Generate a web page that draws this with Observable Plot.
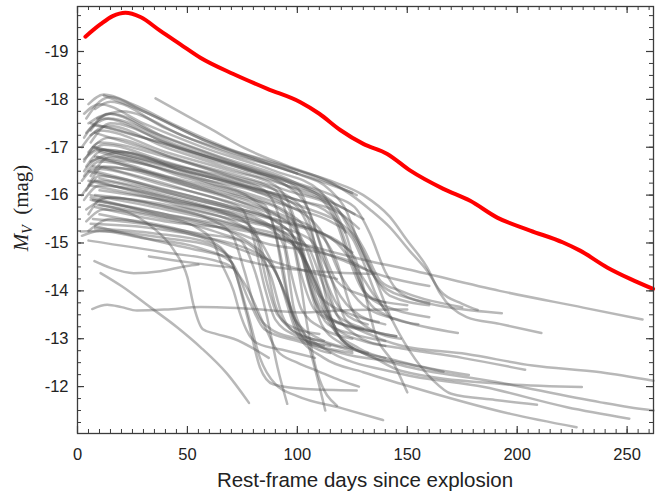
<!DOCTYPE html>
<html><head><meta charset="utf-8">
<script src="https://cdn.jsdelivr.net/npm/d3@7"></script>
<script src="https://cdn.jsdelivr.net/npm/@observablehq/plot@0.6"></script>
<style>body{margin:0;background:#fff}</style>
</head><body><div id="chart"></div>
<script>
// Red curve: [rest-frame day, M_V]
const redCurve = [[3.6,-19.31],[10.5,-19.57],[16,-19.74],[21.8,-19.81],[28.6,-19.72],[37.7,-19.43],[46.8,-19.15],[55.9,-18.87],[70.9,-18.53],[86.4,-18.22],[101.4,-17.94],[110,-17.7],[119.5,-17.36],[130,-17.07],[140.9,-16.86],[151.4,-16.51],[166.4,-16.13],[178.6,-15.88],[190.9,-15.53],[205.9,-15.26],[220.9,-15.01],[228.6,-14.84],[240.9,-14.49],[251.4,-14.25],[261.8,-14.04]];

// Gray comparison light curves
const grayCurves = [
 [[10.5,-14.37],[20,-14.1],[33,-13.66],[45,-13.25],[56,-12.82],[68,-12.27],[78,-11.66]],
 [[6.7,-13.62],[13.5,-13.71],[20,-13.66],[27,-13.59],[40,-13.61],[56,-13.66],[80,-13.62],[101,-13.55],[125,-13.6],[150,-13.61]],
 [[7.7,-14.62],[15,-14.48],[25.6,-14.37],[37.7,-14.41],[49.8,-14.52],[55,-14.55]],
 [[10,-15.8],[25,-15.6],[34,-15.33],[44,-14.84],[50,-14.28],[53,-13.66],[57,-13.2],[63,-13.1],[71,-13.0],[87,-12.6]],
 [[8,-15.35],[40,-15.0],[70,-14.7],[91,-14.49],[135,-14.35]],
 [[32.5,-14.72],[50,-14.6],[71,-14.48]],
 [[8,-15.75],[40,-15.45],[70,-15.3],[100,-15.0],[130,-14.65],[150,-14.45],[192,-14.0],[230,-13.65],[257,-13.4]],
 [[12,-18.08],[30,-17.75],[60,-17.1],[90,-16.65],[115,-16.3],[130,-16.0],[142,-15.55],[150,-15.05],[159,-14.49],[165,-13.94],[177,-13.45],[192,-13.31],[211,-13.12]],
 [[35.5,-18.02],[50,-17.65],[60,-17.4],[76,-16.98],[95,-16.62],[115,-16.27],[124,-16.02],[133,-15.7],[142,-15.33],[151,-14.84],[159,-14.42],[165,-14.0],[175,-13.73],[182,-13.6]],
 [[8,-17.3],[50,-16.7],[95,-16.1],[118,-15.7],[130,-14.9],[138,-14.2],[147,-14.0],[175,-13.66]],
 [[6,-17.5],[45,-17.0],[90,-16.35],[115,-15.9],[126,-15.1],[135,-14.3],[147,-13.9],[193,-13.53]],
 [[10,-16.9],[50,-16.4],[90,-15.9],[110,-15.3],[120,-14.3],[130,-13.7],[147,-13.38],[173,-13.12]],
 [[7,-15.5],[30,-15.4],[55,-15.2],[74,-15.05],[80,-14.5],[86,-13.5],[91,-12.4],[95.4,-11.64]],
 [[5,-16.3],[40,-15.95],[70,-15.6],[88,-15.3],[93.8,-14.95],[98.3,-13.66],[104.4,-12.96],[112.7,-11.5]],
 [[10,-16.1],[45,-15.85],[80,-15.5],[97,-15.1],[101,-14.3],[104.4,-13.3],[109,-12.3],[118,-11.6]],
 [[8,-15.3],[35,-15.2],[60,-15.0],[70,-14.6],[77,-13.5],[83,-12.4],[89,-12.05],[104,-11.95],[127,-11.92]],
 [[6,-15.4],[35,-15.3],[60,-15.05],[70,-14.6],[77,-13.6],[83,-12.6],[90,-12.05],[100,-11.8],[120,-11.55],[139,-11.3]],
 [[8,-16.5],[50,-16.0],[90,-15.5],[115,-15.1],[126,-14.7],[131,-13.9],[135,-13.17],[144,-12.47],[150,-11.88]],
 [[5,-15.05],[40,-14.8],[65,-14.6],[71,-14.46],[77,-14.07],[84.7,-13.31],[90.8,-12.75],[100,-12.5],[109,-12.33],[119.5,-12.13],[128,-12.0]],
 [[8,-16.3],[40,-15.9],[80,-15.45],[105,-15.1],[115,-14.3],[122,-13.4],[135,-13.05],[147,-12.86],[177,-12.68],[207,-12.44],[238,-12.3],[262,-12.12]],
 [[6,-16.0],[40,-15.7],[80,-15.25],[100,-14.9],[110,-14.0],[118,-13.2],[130,-12.95],[147,-12.8],[175,-12.6],[203.6,-12.35]],
 [[10,-15.6],[50,-15.2],[85,-14.7],[95,-13.9],[103,-13.0],[120,-12.7],[147,-12.5],[166.5,-12.31]],
 [[5,-16.5],[45,-16.0],[90,-15.3],[105,-14.5],[115,-13.3],[128,-12.8],[147,-12.52],[178,-12.24]],
 [[9,-16.8],[50,-16.2],[90,-15.6],[103,-15.0],[112,-13.8],[120,-13.0],[135,-12.6],[147,-12.33],[192,-12.06],[229.4,-11.99]],
 [[7,-15.9],[40,-15.6],[75,-15.1],[90,-14.4],[100,-13.3],[112,-12.8],[147,-12.27],[185,-11.99],[222.6,-11.57],[251,-11.33]],
 [[8,-17.0],[50,-16.5],[100,-15.8],[125,-15.2],[135,-14.3],[142,-13.5],[151,-12.75],[162,-12.12],[170,-11.85],[190,-11.72],[209,-11.62]],
 [[6,-16.2],[45,-15.8],[80,-15.2],[92,-14.2],[100,-13.1],[112,-12.6],[130,-12.3],[147,-12.06],[197,-11.43],[227,-11.15]],
 [[10,-16.6],[50,-16.1],[95,-15.3],[108,-14.2],[118,-13.1],[130,-12.7],[147,-12.45],[190,-12.1],[238,-11.67],[251,-11.57],[262,-11.5]],
 [[4,-17.6],[10,-17.95],[15,-18.05],[30,-17.75],[60,-17.1],[90,-16.6],[110,-16.3],[125,-16.05]],
 [[5,-17.9],[12,-18.1],[25,-17.9],[45,-17.45],[70,-16.95],[95,-16.6],[115,-16.25],[127,-16.0]],
 [[3,-17.7],[10,-17.9],[30,-17.5],[60,-16.95],[90,-16.5],[110,-16.1],[118,-15.5],[125,-14.6],[132,-13.9],[145,-13.6],[160,-13.45]],
 [[6,-17.35],[14,-17.7],[35,-17.3],[65,-16.8],[95,-16.35],[112,-15.95],[126,-15.6]],
 [[5,-17.5],[15,-17.7],[40,-17.2],[70,-16.7],[100,-16.2],[115,-15.8],[121.8,-15.22]],
 [[8,-17.8],[15,-17.95],[40,-17.4],[70,-16.85],[100,-16.45],[115,-16.1],[122,-15.7],[128,-15.0],[135,-14.3],[142,-13.9],[160,-13.7]],
 [[4,-17.3],[12,-17.6],[40,-17.1],[75,-16.55],[95,-16.2],[105,-15.7],[112,-14.8],[118,-14.2],[130,-13.9],[150,-13.7]],
 [[6,-17.1],[15,-17.5],[45,-17.0],[80,-16.5],[100,-16.15],[108,-15.3],[115,-14.3],[125,-13.6],[140,-13.3]],
 [[2,-17.0],[10,-17.35],[40,-16.9],[70,-16.5],[90,-16.2],[98,-15.6],[103,-14.7],[110,-13.9],[125,-13.5],[137,-13.35]],
 [[9,-17.6],[20,-17.75],[50,-17.2],[80,-16.75],[100,-16.45]],
 [[3,-16.7],[10,-17.1],[40,-16.8],[70,-16.4],[90,-16.1],[97,-15.3],[102,-14.3],[108,-13.6],[120,-13.3],[134,-13.15]],
 [[5,-16.9],[14,-17.2],[45,-16.75],[75,-16.3],[95,-16.0],[105,-15.5],[110,-14.5],[115,-13.5],[122,-12.9],[140,-12.6]],
 [[7,-17.0],[40,-16.65],[70,-16.35],[85,-16.1],[92,-15.5],[97,-14.4],[102,-13.6],[112,-13.2],[125,-13.0]],
 [[4,-16.6],[12,-16.95],[50,-16.5],[80,-16.1],[95,-15.8],[100,-15.2],[105,-14.2],[112,-13.5],[130,-13.2],[145,-13.05]],
 [[6,-16.4],[15,-16.8],[50,-16.35],[80,-15.95],[95,-15.65],[105,-15.2],[112,-14.3],[118,-13.5],[126,-13.1],[140,-12.85]],
 [[3,-16.5],[9,-16.75],[40,-16.4],[70,-16.05],[85,-15.8],[90,-15.2],[94,-14.2],[99,-13.4],[110,-13.0],[125,-12.8]],
 [[8,-16.8],[35,-16.6],[60,-16.25],[80,-15.9],[88,-15.5],[93,-14.6],[97,-13.6],[105,-12.9],[115,-12.7]],
 [[5,-16.2],[12,-16.6],[45,-16.25],[75,-15.85],[95,-15.55],[110,-15.2],[118,-14.6],[124,-13.7],[133,-13.2],[147,-13.0]],
 [[2,-16.3],[8,-16.55],[40,-16.2],[65,-15.9],[75,-15.7],[80,-15.1],[85,-14.1],[90,-13.4],[100,-13.05],[115,-12.85]],
 [[7,-16.6],[30,-16.5],[60,-16.1],[80,-15.75],[100,-15.4],[118,-15.0],[128,-14.4],[135,-13.9],[140,-13.6]],
 [[4,-16.1],[10,-16.4],[40,-16.1],[70,-15.75],[90,-15.45],[100,-15.0],[106,-14.0],[111,-13.3],[120,-12.9],[132,-12.7]],
 [[6,-16.7],[20,-16.9],[50,-16.45],[80,-16.0],[100,-15.7],[115,-15.45],[125,-15.1],[130,-14.6],[136,-13.9],[143,-13.4]],
 [[9,-16.95],[40,-16.6],[70,-16.25],[100,-15.9],[120,-15.6],[128,-15.3]],
 [[3,-17.2],[8,-17.45],[30,-17.2],[60,-16.75],[85,-16.4],[100,-16.1],[120,-15.75],[130,-15.5]],
 [[5,-15.6],[12,-15.95],[40,-15.75],[60,-15.5],[70,-15.2],[76,-14.4],[81,-13.6],[88,-13.2],[100,-13.0],[112,-12.85]],
 [[3,-15.9],[10,-16.2],[45,-15.9],[70,-15.55],[80,-15.3],[86,-14.5],[90,-13.7],[97,-13.2],[110,-12.95],[125,-12.75]],
 [[4,-15.7],[15,-15.95],[45,-15.7],[75,-15.35],[95,-15.1],[103,-14.6],[108,-13.8],[114,-13.3],[125,-13.1],[140,-12.95]],
 [[9,-15.8],[40,-15.55],[70,-15.25],[85,-15.0],[110,-14.8],[125,-14.6],[133,-14.4]],
 [[2,-15.15],[10,-15.25],[40,-15.1],[60,-14.95],[70,-14.7]],
 [[1.5,-15.24],[10,-15.25],[30,-15.1],[55,-14.9],[70,-14.6],[78,-13.8],[85,-13.2],[100,-12.95],[125,-12.7]],
 [[6,-15.9],[40,-15.6],[75,-15.3],[100,-15.0],[120,-14.65],[140,-14.3],[160,-14.1]],
 [[5,-16.85],[12,-17.05],[40,-16.7],[70,-16.3],[90,-16.0],[100,-15.75],[108,-15.0],[114,-14.1],[120,-13.6],[132,-13.3]],
 [[3,-16.4],[10,-16.7],[45,-16.3],[75,-15.95],[92,-15.7],[100,-15.3],[105,-14.4],[110,-13.7],[118,-13.35],[130,-13.2]],
 [[8,-16.0],[40,-15.8],[70,-15.5],[95,-15.2],[105,-14.9],[112,-14.1],[118,-13.5],[128,-13.25],[145,-13.05]],
 [[6,-17.25],[14,-17.45],[40,-17.0],[70,-16.55],[95,-16.2],[110,-15.95],[118,-15.4],[124,-14.6],[130,-14.0],[140,-13.75]],
 [[4,-15.45],[12,-15.7],[40,-15.5],[65,-15.2],[80,-14.9],[88,-14.3],[93,-13.5],[100,-13.1],[112,-12.95]],
 [[10,-16.35],[45,-16.0],[80,-15.6],[100,-15.35],[118,-15.05],[125,-14.8]],
 [[2,-16.0],[9,-16.3],[35,-16.05],[60,-15.75],[75,-15.5],[82,-15.0],[86,-14.2],[91,-13.5],[100,-13.2],[110,-13.1]],
 [[7,-17.45],[14,-17.6],[45,-17.05],[75,-16.6],[100,-16.25],[118,-15.95],[127,-15.7],[133,-15.2],[140,-14.4],[147,-13.95],[160,-13.75]],
 [[5,-15.25],[15,-15.5],[40,-15.35],[60,-15.1],[75,-14.85],[90,-14.6],[105,-14.4],[118,-14.25]],
 [[3,-16.75],[10,-16.95],[50,-16.55],[80,-16.15],[100,-15.9],[115,-15.6],[122,-15.2],[127,-14.4],[132,-13.8],[140,-13.5],[155,-13.3]],
 [[6,-15.95],[35,-15.6],[55,-15.3],[62,-15.0],[65,-14.63],[71,-14.0],[74,-13.52],[77,-13.17],[82,-12.9],[95,-12.75],[108,-12.6]]
];

const xMajorTicks = [0, 50, 100, 150, 200, 250];
const yMajorTicks = [-19, -18, -17, -16, -15, -14, -13, -12];
const xMinorTicks = d3.range(0, 262, 5);
const yMinorTicks = d3.range(-19.75, -11, 0.25);
const xDomain = [0, 262];
const yDomain = [-11.02, -19.94];

const W = 668, H = 495, mL = 77, mR = 15, mT = 6, mB = 62;
const plotW = W - mL - mR, plotH = H - mT - mB;
const axisColor = "#3c3c3c";

const grayRows = grayCurves.flatMap((c, i) => c.map(([d, m]) => ({id: i, d, m})));
const redRows = redCurve.map(([d, m]) => ({d, m}));

const chart = Plot.plot({
  width: W, height: H,
  marginLeft: mL, marginRight: mR, marginTop: mT, marginBottom: mB,
  style: {fontFamily: "'Liberation Sans', Arial, sans-serif", background: "#fff"},
  x: {domain: xDomain},
  y: {domain: yDomain},
  marks: [
    Plot.line(grayRows, {x: "d", y: "m", z: "id", stroke: "#555", strokeOpacity: 0.42, strokeWidth: 2.5, curve: "monotone-x"}),
    Plot.line(redRows, {x: "d", y: "m", stroke: "#ff0000", strokeWidth: 4, curve: "monotone-x"}),
    Plot.frame({stroke: axisColor, strokeWidth: 1.3}),
    Plot.tickX(xMinorTicks, {x: d => d, insetTop: plotH - 4, stroke: axisColor}),
    Plot.tickX(xMinorTicks, {x: d => d, insetBottom: plotH - 4, stroke: axisColor}),
    Plot.tickX(xMajorTicks, {x: d => d, insetTop: plotH - 7, stroke: axisColor, strokeWidth: 1.2}),
    Plot.tickX(xMajorTicks, {x: d => d, insetBottom: plotH - 7, stroke: axisColor, strokeWidth: 1.2}),
    Plot.tickY(yMinorTicks, {y: d => d, insetRight: plotW - 4, stroke: axisColor}),
    Plot.tickY(yMinorTicks, {y: d => d, insetLeft: plotW - 4, stroke: axisColor}),
    Plot.tickY(yMajorTicks, {y: d => d, insetRight: plotW - 7, stroke: axisColor, strokeWidth: 1.2}),
    Plot.tickY(yMajorTicks, {y: d => d, insetLeft: plotW - 7, stroke: axisColor, strokeWidth: 1.2}),
    Plot.axisX({ticks: xMajorTicks, tickSize: 0, tickPadding: 15, fontSize: 16.5, tickFormat: d => String(d), label: null, color: "#222"}),
    Plot.axisY({ticks: yMajorTicks, tickSize: 0, tickPadding: 9, fontSize: 16.5, tickFormat: d => String(d), label: null, color: "#222"})
  ]
});

const svg = d3.select(chart);
svg.append("text")
  .attr("x", mL + plotW / 2).attr("y", 487)
  .attr("text-anchor", "middle")
  .attr("font-family", "'Liberation Sans', Arial, sans-serif")
  .attr("font-size", 20.5).attr("fill", "#222")
  .text("Rest-frame days since explosion");

const yl = svg.append("text")
  .attr("transform", "translate(28,208) rotate(-90)")
  .attr("text-anchor", "middle")
  .attr("font-family", "'Liberation Serif', 'DejaVu Serif', serif")
  .attr("font-size", 21).attr("fill", "#222");
yl.append("tspan").attr("font-style", "italic").text("M");
yl.append("tspan").attr("font-style", "italic").attr("font-size", 14).attr("dy", 4).text("V");
yl.append("tspan").attr("dy", -4).text("\u2002(mag)");

document.getElementById("chart").appendChild(chart);
</script>
</body></html>
